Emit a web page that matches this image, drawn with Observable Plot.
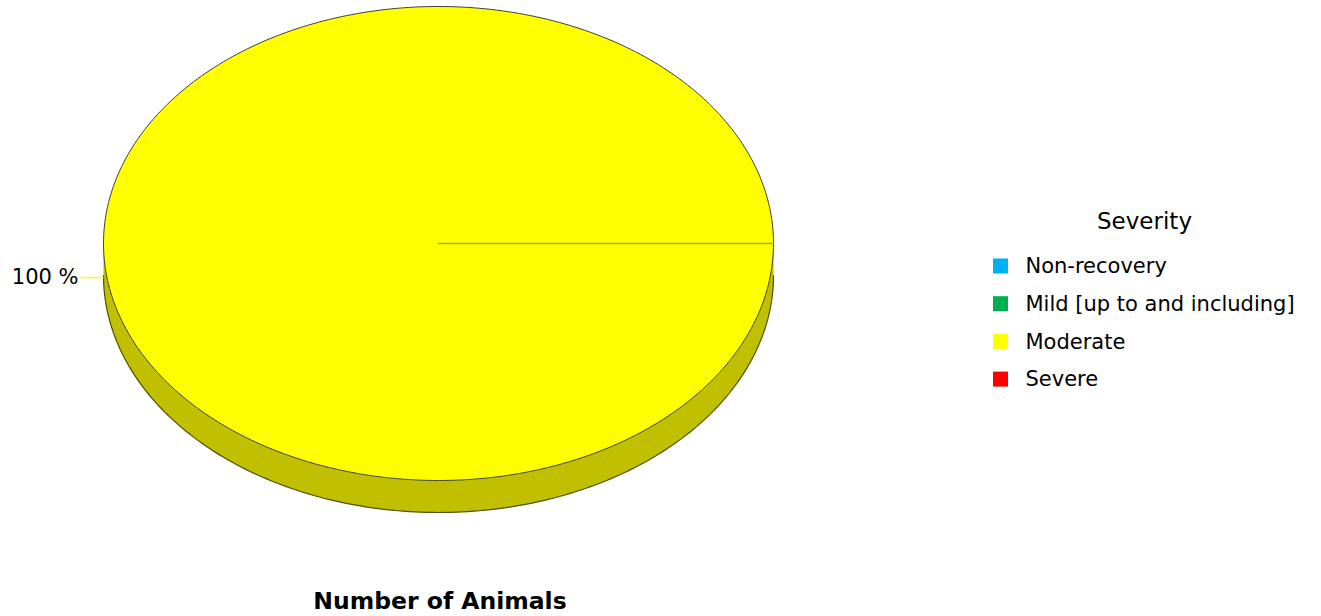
<!DOCTYPE html>
<html>
<head>
<meta charset="utf-8">
<script src="https://cdn.jsdelivr.net/npm/d3@7"></script>
<script src="https://cdn.jsdelivr.net/npm/@observablehq/plot@0.6"></script>
<style>
  html, body { margin: 0; padding: 0; background: #fff; }
  #chart svg { display: block; }
  #title { width: 880px; text-align: center; font: bold 23.5px "DejaVu Sans", sans-serif; color: #000; height: 34px; line-height: 34px; }
</style>
</head>
<body>
<div id="chart"></div>
<div id="title"></div>
<script>
// ---- data ----
const categories = ["Non-recovery", "Mild [up to and including]", "Moderate", "Severe"];
const counts = [0, 0, 1, 0];
const colors = ["#00b0f0", "#00b050", "#ffff00", "#ff0000"];
const sideColors = ["#008cc0", "#008c40", "#c0c000", "#c00000"];
const legendTitle = "Severity";
const chartTitle = "Number of Animals";

// ---- layout ----
const W = 1321, H = 584;
const cx = 438, cy = 243, rx = 335, ry = 237, depth = 32;
const N = 360;

const total = d3.sum(counts);
const slices = d3.pie().value(d => d.value).sort(null)
  .startAngle(Math.PI / 2).endAngle(Math.PI / 2 + 2 * Math.PI)(
    categories.map((c, i) => ({category: c, value: counts[i], color: colors[i], side: sideColors[i]}))
  ).filter(s => s.value > 0);

const px = a => cx + rx * Math.sin(a);
const py = a => cy - ry * Math.cos(a);

function arcPts(a0, a1) {
  const n = Math.max(2, Math.ceil(Math.abs(a1 - a0) / (2 * Math.PI) * N));
  return d3.range(n + 1).map(k => a0 + (a1 - a0) * k / n);
}

const sliceMarks = [];
// side walls (front half: angles PI/2 .. 3PI/2)
slices.forEach(s => {
  const a0 = Math.max(s.startAngle, Math.PI / 2), a1 = Math.min(s.endAngle, 3 * Math.PI / 2);
  if (a1 <= a0) return;
  const as = arcPts(a0, a1);
  const pts = as.map(a => ({x: px(a), y: py(a)}))
    .concat(as.slice().reverse().map(a => ({x: px(a), y: py(a) + depth})));
  sliceMarks.push(Plot.line(pts, {x: "x", y: "y", fill: s.data.side, stroke: "none", curve: "linear"}));
});
const bottomEdge = arcPts(Math.PI / 2, 3 * Math.PI / 2).map(a => ({x: px(a), y: py(a) + depth}));
sliceMarks.push(Plot.line(bottomEdge, {x: "x", y: "y", stroke: "#505000", strokeWidth: 1.2}));
// top faces
slices.forEach(s => {
  const pts = [{x: cx, y: cy}]
    .concat(arcPts(s.startAngle, s.endAngle).map(a => ({x: px(a), y: py(a)})))
    .concat([{x: cx, y: cy}]);
  sliceMarks.push(Plot.line(pts, {x: "x", y: "y", fill: s.data.color, stroke: "none", curve: "linear"}));
});
const outline = arcPts(0, 2 * Math.PI).map(a => ({x: px(a), y: py(a)}));
const radii = [];
slices.forEach((s, i) => {
  radii.push({k: i, x: cx, y: cy}, {k: i, x: px(s.startAngle), y: py(s.startAngle)});
});
// labels
const labels = slices.map(s => {
  const m = (s.startAngle + s.endAngle) / 2;
  const x0 = px(m), y0 = py(m) + depth + 2;
  const left = Math.sin(m) < 0;
  const x1 = x0 + (left ? -23 : 23);
  return {x0, y0, x1, text: Math.round(s.value / total * 100) + " %", color: s.data.color};
});
// legend
const legendX = 993, legendY0 = 266, legendStep = 37.7, sq = 15;
const legend = categories.map((c, i) => ({c, color: colors[i], y: legendY0 + i * legendStep}));

const chart = Plot.plot({
  width: W, height: H,
  margin: 0,
  x: {domain: [0, W], range: [0, W], axis: null},
  y: {domain: [0, H], range: [0, H], axis: null},
  style: {fontFamily: "DejaVu Sans, sans-serif", background: "#fff"},
  marks: [
    ...sliceMarks,
    Plot.line(outline, {x: "x", y: "y", stroke: "#404040", strokeWidth: 1}),
    Plot.line(radii, {x: "x", y: "y", z: "k", stroke: "#a8a800", strokeWidth: 1.5}),
    Plot.link(labels, {x1: "x0", y1: "y0", x2: "x1", y2: "y0", stroke: "color", strokeWidth: 1.5}),
    Plot.text(labels, {x: d => d.x1 - 2, y: "y0", text: "text", textAnchor: "end", fontSize: 21, fill: "#000"}),
    Plot.text([legendTitle], {x: 1144, y: 221, text: d => d, fontSize: 23, fill: "#000"}),
    Plot.rect(legend, {x1: legendX, x2: legendX + sq, y1: d => d.y - sq / 2, y2: d => d.y + sq / 2, fill: "color"}),
    Plot.text(legend, {x: 1025, y: "y", text: "c", textAnchor: "start", fontSize: 21, fill: "#000"})
  ]
});
document.getElementById("chart").appendChild(chart);
document.getElementById("title").textContent = chartTitle;
</script>
</body>
</html>
